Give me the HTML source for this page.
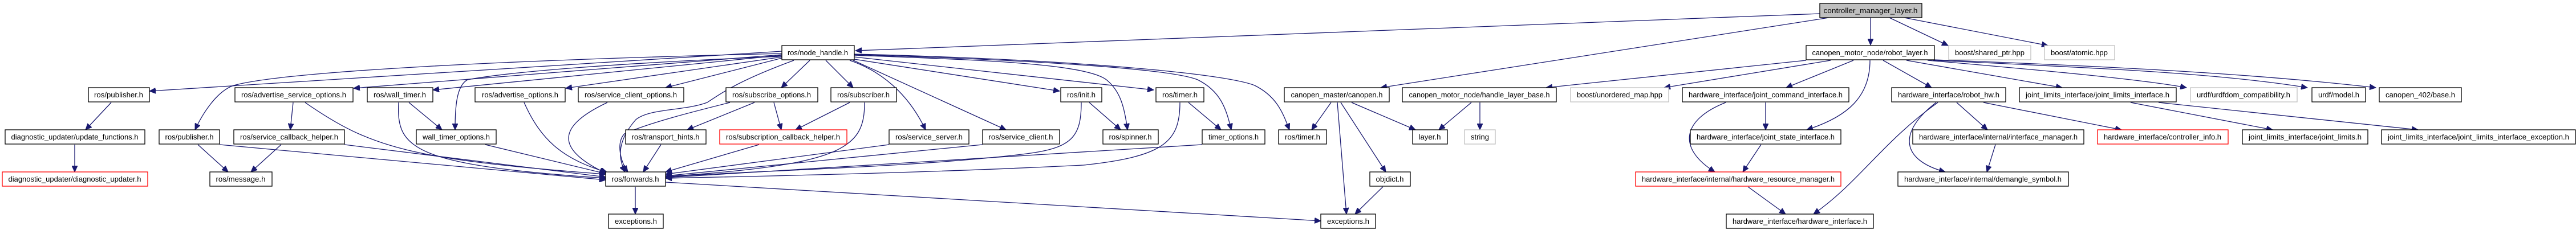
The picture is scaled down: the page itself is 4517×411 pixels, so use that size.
<!DOCTYPE html>
<html><head><meta charset="utf-8"><style>
html,body{margin:0;padding:0;background:#fff;}
svg{display:block;}
text{font-family:"Liberation Sans",sans-serif;font-size:13px;fill:#000;}
.e{fill:none;stroke:#191970;stroke-width:1.3;marker-end:url(#a);}
</style></head><body>
<svg width="4517" height="411" viewBox="0 0 4517 411" xmlns="http://www.w3.org/2000/svg">
<defs><marker id="a" markerUnits="userSpaceOnUse" markerWidth="12" markerHeight="10" refX="11" refY="5" orient="auto"><path d="M0,0 L11,5 L0,10 Z" fill="#191970" stroke="#191970"/></marker></defs>
<g>
<path class="e" d="M3191,24 L1500,89"/>
<path class="e" d="M3207,31 L2421,154"/>
<path class="e" d="M3280,31 L3280,79"/>
<path class="e" d="M3313,31 L3416,80"/>
<path class="e" d="M3339,31 L3591,80"/>
<path class="e" d="M3167,106 L2711,154"/>
<path class="e" d="M3210,106 L2918,154"/>
<path class="e" d="M3250,106 L3132,154"/>
<path class="e" d="M3279,106 C3279,170 3240,205 3168,228"/>
<path class="e" d="M3302,106 L3387,154"/>
<path class="e" d="M3343,106 L3616,154"/>
<path class="e" d="M3380,106 C3600,125 3760,140 3834,154"/>
<path class="e" d="M3390,106 C3700,120 3900,130 4046,154"/>
<path class="e" d="M3392,105 C3800,120 4000,135 4166,154"/>
<path class="e" d="M1371,90 L262,160"/>
<path class="e" d="M1371,94 C900,105 500,125 410,150 C380,160 355,200 342,228"/>
<path class="e" d="M1371,96 L620,155"/>
<path class="e" d="M1371,97 L759,158"/>
<path class="e" d="M1371,99 C1100,110 900,125 820,140 C800,150 798,190 798,228"/>
<path class="e" d="M1371,100 L992,155"/>
<path class="e" d="M1371,102 L1167,154"/>
<path class="e" d="M1392,106 C1300,140 1270,160 1240,180 C1200,195 1140,190 1115,210 C1080,250 1085,280 1096,302"/>
<path class="e" d="M1280,180 C1220,195 1140,215 1095,235 C1080,250 1088,285 1101,302"/>
<path class="e" d="M1420,106 L1370,154"/>
<path class="e" d="M1448,106 L1496,154"/>
<path class="e" d="M1490,106 C1560,130 1600,180 1623,228"/>
<path class="e" d="M1492,104 L1764,228"/>
<path class="e" d="M1498,104 L1858,160"/>
<path class="e" d="M1498,100 L2023,158"/>
<path class="e" d="M1498,97 C1700,105 1900,110 1940,140 C1965,160 1972,190 1977,228"/>
<path class="e" d="M1498,96 C1800,105 2050,120 2100,140 C2140,160 2150,190 2159,228"/>
<path class="e" d="M1498,95 C1900,105 2150,130 2200,150 C2240,170 2250,200 2261,228"/>
<path class="e" d="M195,180 L150,228"/>
<path class="e" d="M131,254 L131,302"/>
<path class="e" d="M347,254 L400,302"/>
<path class="e" d="M385,254 L1062,316"/>
<path class="e" d="M514,180 L509,228"/>
<path class="e" d="M535,180 C650,260 720,280 1062,306"/>
<path class="e" d="M493,254 L440,302"/>
<path class="e" d="M604,254 L1062,311"/>
<path class="e" d="M717,180 L775,228"/>
<path class="e" d="M699,180 C695,260 720,290 1062,313"/>
<path class="e" d="M851,254 L1062,305"/>
<path class="e" d="M919,180 C950,250 990,280 1065,303"/>
<path class="e" d="M1065,180 C980,220 970,260 1062,304"/>
<path class="e" d="M1323,180 L1205,228"/>
<path class="e" d="M1357,180 L1370,228"/>
<path class="e" d="M1490,180 L1395,228"/>
<path class="e" d="M1516,180 C1516,260 1480,290 1167,310"/>
<path class="e" d="M1159,254 L1128,302"/>
<path class="e" d="M1331,254 L1167,302"/>
<path class="e" d="M1559,254 L1167,306"/>
<path class="e" d="M1723,254 L1167,309"/>
<path class="e" d="M1896,180 C1896,240 1880,260 1800,270 C1600,295 1300,300 1167,311"/>
<path class="e" d="M2069,180 C2069,250 2040,275 1900,290 C1600,305 1300,310 1167,313"/>
<path class="e" d="M1910,180 L1965,228"/>
<path class="e" d="M2084,180 L2141,228"/>
<path class="e" d="M2108,254 L1167,312"/>
<path class="e" d="M1114,328 L1114,376"/>
<path class="e" d="M1167,320 L2316,388"/>
<path class="e" d="M2334,180 L2300,228"/>
<path class="e" d="M2345,180 L2361,376"/>
<path class="e" d="M2351,180 L2430,302"/>
<path class="e" d="M2370,180 L2482,228"/>
<path class="e" d="M2425,328 L2376,376"/>
<path class="e" d="M2580,180 L2523,228"/>
<path class="e" d="M2595,180 L2595,228"/>
<path class="e" d="M3096,180 L3096,228"/>
<path class="e" d="M3026,180 C2950,210 2940,260 3007,302"/>
<path class="e" d="M3088,254 L3056,302"/>
<path class="e" d="M3065,328 L3131,376"/>
<path class="e" d="M3398,180 C3300,250 3260,320 3180,376"/>
<path class="e" d="M3395,180 C3330,230 3330,280 3411,302"/>
<path class="e" d="M3431,180 L3485,228"/>
<path class="e" d="M3478,180 L3720,228"/>
<path class="e" d="M3499,254 L3484,302"/>
<path class="e" d="M3736,180 L3985,228"/>
<path class="e" d="M3785,180 L4240,228"/>
</g>
<g stroke-width="1.3">
<rect x="3191" y="6" width="179" height="25" fill="#bfbfbf" stroke="#000"/><text x="3280" y="23" text-anchor="middle" textLength="165" lengthAdjust="spacingAndGlyphs">controller_manager_layer.h</text>
<rect x="1371" y="80" width="127" height="25" fill="#fff" stroke="#000"/><text x="1434" y="97" text-anchor="middle" textLength="106" lengthAdjust="spacingAndGlyphs">ros/node_handle.h</text>
<rect x="3167" y="80" width="225" height="25" fill="#fff" stroke="#000"/><text x="3279" y="97" text-anchor="middle" textLength="203" lengthAdjust="spacingAndGlyphs">canopen_motor_node/robot_layer.h</text>
<rect x="3417" y="80" width="144" height="25" fill="#fff" stroke="#bfbfbf"/><text x="3489" y="97" text-anchor="middle" textLength="122" lengthAdjust="spacingAndGlyphs">boost/shared_ptr.hpp</text>
<rect x="3585" y="80" width="123" height="25" fill="#fff" stroke="#bfbfbf"/><text x="3646" y="97" text-anchor="middle" textLength="100" lengthAdjust="spacingAndGlyphs">boost/atomic.hpp</text>
<rect x="155" y="154" width="107" height="25" fill="#fff" stroke="#000"/><text x="208" y="171" text-anchor="middle" textLength="86" lengthAdjust="spacingAndGlyphs">ros/publisher.h</text>
<rect x="412" y="154" width="207" height="25" fill="#fff" stroke="#000"/><text x="515" y="171" text-anchor="middle" textLength="184" lengthAdjust="spacingAndGlyphs">ros/advertise_service_options.h</text>
<rect x="644" y="154" width="115" height="25" fill="#fff" stroke="#000"/><text x="701" y="171" text-anchor="middle" textLength="92" lengthAdjust="spacingAndGlyphs">ros/wall_timer.h</text>
<rect x="833" y="154" width="158" height="25" fill="#fff" stroke="#000"/><text x="912" y="171" text-anchor="middle" textLength="134" lengthAdjust="spacingAndGlyphs">ros/advertise_options.h</text>
<rect x="1014" y="154" width="185" height="25" fill="#fff" stroke="#000"/><text x="1106" y="171" text-anchor="middle" textLength="162" lengthAdjust="spacingAndGlyphs">ros/service_client_options.h</text>
<rect x="1273" y="154" width="161" height="25" fill="#fff" stroke="#000"/><text x="1353" y="171" text-anchor="middle" textLength="138" lengthAdjust="spacingAndGlyphs">ros/subscribe_options.h</text>
<rect x="1457" y="154" width="115" height="25" fill="#fff" stroke="#000"/><text x="1514" y="171" text-anchor="middle" textLength="92" lengthAdjust="spacingAndGlyphs">ros/subscriber.h</text>
<rect x="1860" y="154" width="72" height="25" fill="#fff" stroke="#000"/><text x="1896" y="171" text-anchor="middle" textLength="50" lengthAdjust="spacingAndGlyphs">ros/init.h</text>
<rect x="2027" y="154" width="84" height="25" fill="#fff" stroke="#000"/><text x="2069" y="171" text-anchor="middle" textLength="62" lengthAdjust="spacingAndGlyphs">ros/timer.h</text>
<rect x="2252" y="154" width="184" height="25" fill="#fff" stroke="#000"/><text x="2344" y="171" text-anchor="middle" textLength="161" lengthAdjust="spacingAndGlyphs">canopen_master/canopen.h</text>
<rect x="2459" y="154" width="270" height="25" fill="#fff" stroke="#000"/><text x="2594" y="171" text-anchor="middle" textLength="247" lengthAdjust="spacingAndGlyphs">canopen_motor_node/handle_layer_base.h</text>
<rect x="2754" y="154" width="172" height="25" fill="#fff" stroke="#bfbfbf"/><text x="2840" y="171" text-anchor="middle" textLength="150" lengthAdjust="spacingAndGlyphs">boost/unordered_map.hpp</text>
<rect x="2950" y="154" width="292" height="25" fill="#fff" stroke="#000"/><text x="3096" y="171" text-anchor="middle" textLength="270" lengthAdjust="spacingAndGlyphs">hardware_interface/joint_command_interface.h</text>
<rect x="3317" y="154" width="200" height="25" fill="#fff" stroke="#000"/><text x="3417" y="171" text-anchor="middle" textLength="178" lengthAdjust="spacingAndGlyphs">hardware_interface/robot_hw.h</text>
<rect x="3541" y="154" width="275" height="25" fill="#fff" stroke="#000"/><text x="3678" y="171" text-anchor="middle" textLength="252" lengthAdjust="spacingAndGlyphs">joint_limits_interface/joint_limits_interface.h</text>
<rect x="3841" y="154" width="187" height="25" fill="#fff" stroke="#bfbfbf"/><text x="3934" y="171" text-anchor="middle" textLength="164" lengthAdjust="spacingAndGlyphs">urdf/urdfdom_compatibility.h</text>
<rect x="4054" y="154" width="94" height="25" fill="#fff" stroke="#000"/><text x="4101" y="171" text-anchor="middle" textLength="72" lengthAdjust="spacingAndGlyphs">urdf/model.h</text>
<rect x="4172" y="154" width="144" height="25" fill="#fff" stroke="#000"/><text x="4244" y="171" text-anchor="middle" textLength="122" lengthAdjust="spacingAndGlyphs">canopen_402/base.h</text>
<rect x="9" y="228" width="245" height="25" fill="#fff" stroke="#000"/><text x="131" y="245" text-anchor="middle" textLength="223" lengthAdjust="spacingAndGlyphs">diagnostic_updater/update_functions.h</text>
<rect x="279" y="228" width="106" height="25" fill="#fff" stroke="#000"/><text x="332" y="245" text-anchor="middle" textLength="85" lengthAdjust="spacingAndGlyphs">ros/publisher.h</text>
<rect x="410" y="228" width="194" height="25" fill="#fff" stroke="#000"/><text x="507" y="245" text-anchor="middle" textLength="172" lengthAdjust="spacingAndGlyphs">ros/service_callback_helper.h</text>
<rect x="730" y="228" width="140" height="25" fill="#fff" stroke="#000"/><text x="800" y="245" text-anchor="middle" textLength="118" lengthAdjust="spacingAndGlyphs">wall_timer_options.h</text>
<rect x="1097" y="228" width="141" height="25" fill="#fff" stroke="#000"/><text x="1167" y="245" text-anchor="middle" textLength="119" lengthAdjust="spacingAndGlyphs">ros/transport_hints.h</text>
<rect x="1262" y="228" width="223" height="25" fill="#fff" stroke="#ff0000"/><text x="1373" y="245" text-anchor="middle" textLength="200" lengthAdjust="spacingAndGlyphs">ros/subscription_callback_helper.h</text>
<rect x="1559" y="228" width="140" height="25" fill="#fff" stroke="#000"/><text x="1629" y="245" text-anchor="middle" textLength="118" lengthAdjust="spacingAndGlyphs">ros/service_server.h</text>
<rect x="1723" y="228" width="135" height="25" fill="#fff" stroke="#000"/><text x="1790" y="245" text-anchor="middle" textLength="113" lengthAdjust="spacingAndGlyphs">ros/service_client.h</text>
<rect x="1934" y="228" width="97" height="25" fill="#fff" stroke="#000"/><text x="1982" y="245" text-anchor="middle" textLength="75" lengthAdjust="spacingAndGlyphs">ros/spinner.h</text>
<rect x="2108" y="228" width="110" height="25" fill="#fff" stroke="#000"/><text x="2163" y="245" text-anchor="middle" textLength="88" lengthAdjust="spacingAndGlyphs">timer_options.h</text>
<rect x="2242" y="228" width="84" height="25" fill="#fff" stroke="#000"/><text x="2284" y="245" text-anchor="middle" textLength="62" lengthAdjust="spacingAndGlyphs">ros/timer.h</text>
<rect x="2477" y="228" width="61" height="25" fill="#fff" stroke="#000"/><text x="2507" y="245" text-anchor="middle" textLength="39" lengthAdjust="spacingAndGlyphs">layer.h</text>
<rect x="2568" y="228" width="54" height="25" fill="#fff" stroke="#bfbfbf"/><text x="2595" y="245" text-anchor="middle" textLength="32" lengthAdjust="spacingAndGlyphs">string</text>
<rect x="2964" y="228" width="264" height="25" fill="#fff" stroke="#000"/><text x="3096" y="245" text-anchor="middle" textLength="242" lengthAdjust="spacingAndGlyphs">hardware_interface/joint_state_interface.h</text>
<rect x="3354" y="228" width="300" height="25" fill="#fff" stroke="#000"/><text x="3504" y="245" text-anchor="middle" textLength="278" lengthAdjust="spacingAndGlyphs">hardware_interface/internal/interface_manager.h</text>
<rect x="3678" y="228" width="229" height="25" fill="#fff" stroke="#ff0000"/><text x="3792" y="245" text-anchor="middle" textLength="206" lengthAdjust="spacingAndGlyphs">hardware_interface/controller_info.h</text>
<rect x="3932" y="228" width="220" height="25" fill="#fff" stroke="#000"/><text x="4042" y="245" text-anchor="middle" textLength="198" lengthAdjust="spacingAndGlyphs">joint_limits_interface/joint_limits.h</text>
<rect x="4176" y="228" width="340" height="25" fill="#fff" stroke="#000"/><text x="4346" y="245" text-anchor="middle" textLength="318" lengthAdjust="spacingAndGlyphs">joint_limits_interface/joint_limits_interface_exception.h</text>
<rect x="4" y="302" width="255" height="25" fill="#fff" stroke="#ff0000"/><text x="131" y="319" text-anchor="middle" textLength="233" lengthAdjust="spacingAndGlyphs">diagnostic_updater/diagnostic_updater.h</text>
<rect x="368" y="302" width="109" height="25" fill="#fff" stroke="#000"/><text x="422" y="319" text-anchor="middle" textLength="87" lengthAdjust="spacingAndGlyphs">ros/message.h</text>
<rect x="1062" y="302" width="105" height="25" fill="#fff" stroke="#000"/><text x="1114" y="319" text-anchor="middle" textLength="83" lengthAdjust="spacingAndGlyphs">ros/forwards.h</text>
<rect x="2402" y="302" width="71" height="25" fill="#fff" stroke="#000"/><text x="2437" y="319" text-anchor="middle" textLength="49" lengthAdjust="spacingAndGlyphs">objdict.h</text>
<rect x="2868" y="302" width="360" height="25" fill="#fff" stroke="#ff0000"/><text x="3048" y="319" text-anchor="middle" textLength="338" lengthAdjust="spacingAndGlyphs">hardware_interface/internal/hardware_resource_manager.h</text>
<rect x="3328" y="302" width="299" height="25" fill="#fff" stroke="#000"/><text x="3477" y="319" text-anchor="middle" textLength="276" lengthAdjust="spacingAndGlyphs">hardware_interface/internal/demangle_symbol.h</text>
<rect x="1067" y="376" width="96" height="25" fill="#fff" stroke="#000"/><text x="1115" y="393" text-anchor="middle" textLength="74" lengthAdjust="spacingAndGlyphs">exceptions.h</text>
<rect x="2316" y="376" width="96" height="25" fill="#fff" stroke="#000"/><text x="2364" y="393" text-anchor="middle" textLength="74" lengthAdjust="spacingAndGlyphs">exceptions.h</text>
<rect x="3027" y="376" width="258" height="25" fill="#fff" stroke="#000"/><text x="3156" y="393" text-anchor="middle" textLength="236" lengthAdjust="spacingAndGlyphs">hardware_interface/hardware_interface.h</text>
</g>
</svg>
</body></html>
